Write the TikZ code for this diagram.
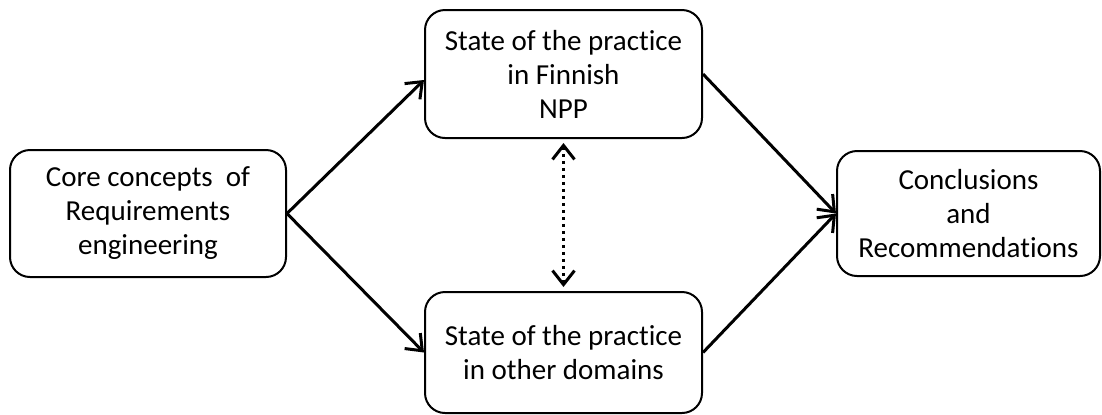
\documentclass[tikz,border=0pt]{standalone}
\usepackage{fontspec}
\setmainfont{Carlito}[Ligatures=NoCommon]
\usetikzlibrary{arrows.meta}

\begin{document}
\begin{tikzpicture}[x=0.5pt,y=-0.5pt,
    box/.style={draw,line width=1pt,rounded corners=10pt,align=center,
      inner sep=0pt,font=\fontsize{14.5}{17}\selectfont},
    flow/.style={line width=1.5pt,-{Straight Barb[length=7pt,width=11pt]}}]
    \useasboundingbox (0,0) rectangle (1102,414);

    \node[box,minimum width=138pt,minimum height=63.5pt] (core) at (148,213.5)
      {Core concepts~ of\\Requirements\\engineering};
    \node[box,minimum width=138.5pt,minimum height=64pt] (finnish) at (563.5,74)
      {State of the practice\\in Finnish\\NPP};
    \node[box,minimum width=138.5pt,minimum height=60.5pt] (other) at (563.5,352.5)
      {State of the practice\\in other domains};
    \node[box,minimum width=131.5pt,minimum height=62.5pt] (concl) at (968.5,213.5)
      {Conclusions\\and\\Recommendations};

    \draw[flow] (core.east) -- ([yshift=-3pt]finnish.west);
    \draw[flow] (core.east) -- (other.west);
    \draw[flow] (finnish.east) -- (concl.west);
    \draw[flow] (other.east) -- (concl.west);

    \draw[line width=1.5pt,dash pattern=on 1.5pt off 2pt,shorten >=2pt,shorten <=2pt,
      {Straight Barb[length=7pt,width=11pt]}-{Straight Barb[length=7pt,width=11pt]}]
      (finnish.south) -- (other.north);
\end{tikzpicture}
\end{document}
